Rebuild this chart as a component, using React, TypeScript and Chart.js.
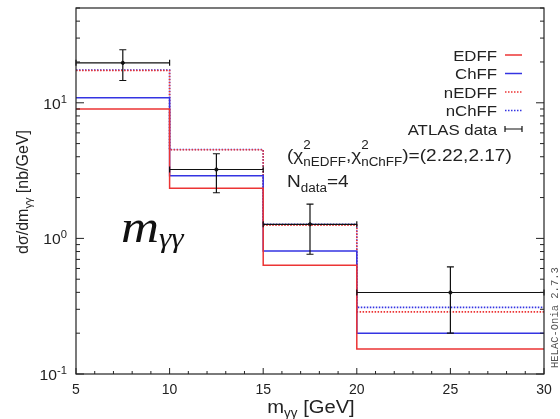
import { useEffect, useRef } from "react";
import { Chart, registerables } from "chart.js";
Chart.register(...registerables);

// ---- data ----
const binEdges = [5, 10, 15, 20, 30];
const edffValues = [9.0, 2.34, 0.634, 0.153];
const chffValues = [10.9, 2.9, 0.808, 0.2];
const nedffValues = [17.3, 4.5, 1.25, 0.287];
const nchffValues = [17.4, 4.52, 1.27, 0.31];
const atlasCenters = [7.5, 12.5, 17.5, 25];
const atlasHalfWidths = [2.5, 2.5, 2.5, 5];
const atlasValues = [19.7, 3.22, 1.27, 0.399];
const atlasLow = [14.6, 2.17, 0.764, 0.2];
const atlasHigh = [24.6, 4.21, 1.79, 0.616];
const xTickStep = 5;
const yDecades = [0.1, 1, 10];
const yDecadeExponents = ["-1", "0", "1"];
const seriesLabels = ["EDFF", "ChFF", "nEDFF", "nChFF", "ATLAS data"];

const RED = "rgb(236,52,52)";
const BLUE = "rgb(52,52,226)";
const SANS = "'Liberation Sans', Arial, sans-serif";
const SX = 1.12;

const stepPoints = (vals: number[]) =>
  binEdges.map((x, i) => ({ x, y: vals[Math.min(i, vals.length - 1)] }));

type Seg = {
  t?: string;
  sup?: string;
  sub?: string;
  size: number;
  small?: number;
  supDy?: number;
  subDy?: number;
  family?: string;
  style?: string;
};

function fontOf(size: number, family?: string, style?: string) {
  return `${style || ""} ${size}px ${family || SANS}`;
}

function measureSeg(ctx: CanvasRenderingContext2D, s: Seg, sx: number) {
  if (s.t !== undefined) {
    ctx.font = fontOf(s.size, s.family, s.style);
    return ctx.measureText(s.t).width * sx;
  }
  ctx.font = fontOf(s.small || s.size, s.family, s.style);
  const a = s.sup ? ctx.measureText(s.sup).width : 0;
  const b = s.sub ? ctx.measureText(s.sub).width : 0;
  return Math.max(a, b) * sx;
}

function put(ctx: CanvasRenderingContext2D, t: string, x: number, y: number, font: string, sx: number) {
  ctx.save();
  ctx.font = font;
  ctx.translate(x, y);
  ctx.scale(sx, 1);
  ctx.textAlign = "left";
  ctx.textBaseline = "alphabetic";
  ctx.fillText(t, 0, 0);
  ctx.restore();
}

function drawRich(
  ctx: CanvasRenderingContext2D,
  segs: Seg[],
  x: number,
  y: number,
  align: "left" | "right" | "center",
  color: string,
  sx = SX
) {
  const widths = segs.map((s) => measureSeg(ctx, s, sx));
  const total = widths.reduce((a, b) => a + b, 0);
  let cx = align === "right" ? x - total : align === "center" ? x - total / 2 : x;
  ctx.fillStyle = color;
  segs.forEach((s, i) => {
    if (s.t !== undefined) {
      put(ctx, s.t, cx, y, fontOf(s.size, s.family, s.style), sx);
    } else {
      const f = fontOf(s.small || s.size, s.family, s.style);
      if (s.sup) put(ctx, s.sup, cx, y + (s.supDy || 0), f, sx);
      if (s.sub) put(ctx, s.sub, cx, y + (s.subDy || 0), f, sx);
    }
    cx += widths[i];
  });
}

const decorPlugin = {
  id: "decor",
  afterDatasetsDraw(chart: any) {
    const ctx: CanvasRenderingContext2D = chart.ctx;
    const { left, right, top, bottom } = chart.chartArea;
    const xs = chart.scales.x;
    const ys = chart.scales.y;
    const ink = "#222";
    ctx.save();

    // ATLAS error bars
    ctx.strokeStyle = "#111";
    ctx.lineWidth = 1.2;
    atlasCenters.forEach((c, i) => {
      const x1 = xs.getPixelForValue(c - atlasHalfWidths[i]);
      const x2 = xs.getPixelForValue(c + atlasHalfWidths[i]);
      const xc = xs.getPixelForValue(c);
      const yv = ys.getPixelForValue(atlasValues[i]);
      const yl = ys.getPixelForValue(atlasLow[i]);
      const yh = ys.getPixelForValue(atlasHigh[i]);
      ctx.beginPath();
      ctx.moveTo(x1, yv);
      ctx.lineTo(x2, yv);
      ctx.moveTo(x1, yv - 3);
      ctx.lineTo(x1, yv + 3);
      ctx.moveTo(x2, yv - 3);
      ctx.lineTo(x2, yv + 3);
      ctx.moveTo(xc, yl);
      ctx.lineTo(xc, yh);
      ctx.moveTo(xc - 3.5, yl);
      ctx.lineTo(xc + 3.5, yl);
      ctx.moveTo(xc - 3.5, yh);
      ctx.lineTo(xc + 3.5, yh);
      ctx.stroke();
    });

    // frame
    ctx.strokeStyle = ink;
    ctx.lineWidth = 1.2;
    ctx.strokeRect(left, top, right - left, bottom - top);

    // x ticks
    ctx.lineWidth = 1;
    ctx.beginPath();
    for (let v = xs.min; v <= xs.max + 1e-9; v += 1) {
      const px = xs.getPixelForValue(v);
      const len = v % xTickStep === 0 ? 6 : 3;
      ctx.moveTo(px, bottom);
      ctx.lineTo(px, bottom - len);
    }
    // y ticks (log, left and right)
    yDecades.forEach((d) => {
      for (let k = 1; k <= 9; k++) {
        const v = d * k;
        if (v < ys.min - 1e-12 || v > ys.max + 1e-12) continue;
        const py = ys.getPixelForValue(v);
        const len = k === 1 ? 8 : 4;
        ctx.moveTo(left, py);
        ctx.lineTo(left + len, py);
        ctx.moveTo(right, py);
        ctx.lineTo(right - len, py);
      }
    });
    ctx.stroke();

    // y tick labels 10^n
    yDecades.forEach((d, i) => {
      const py = ys.getPixelForValue(d);
      drawRich(
        ctx,
        [
          { t: "10", size: 14 },
          { sup: yDecadeExponents[i], size: 14, small: 10, supDy: -6 },
        ],
        left - 9,
        py + 6,
        "right",
        ink
      );
    });

    // x axis title
    drawRich(
      ctx,
      [
        { t: "m", size: 18 },
        { sub: "\u03b3\u03b3", size: 18, small: 12, subDy: 4 },
        { t: " [GeV]", size: 18 },
      ],
      (left + right) / 2 + 1,
      chart.height - 6,
      "center",
      ink
    );

    // y axis title (rotated)
    ctx.save();
    ctx.translate(28, (top + bottom) / 2 + 1);
    ctx.rotate(-Math.PI / 2);
    drawRich(
      ctx,
      [
        { t: "d\u03c3/dm", size: 16 },
        { sub: "\u03b3\u03b3", size: 16, small: 11, subDy: 4 },
        { t: " [nb/GeV]", size: 16 },
      ],
      0,
      0,
      "center",
      ink,
      1
    );
    ctx.restore();

    // legend
    const ds = chart.data.datasets;
    seriesLabels.forEach((lab, i) => {
      const yc = 55 + i * 18.5;
      drawRich(ctx, [{ t: lab, size: 15 }], 497, yc + 5.5, "right", ink);
      const d = ds[i];
      ctx.save();
      ctx.strokeStyle = d.borderColor;
      ctx.lineWidth = i === 4 ? 1.2 : d.borderWidth;
      ctx.setLineDash(d.borderDash || []);
      ctx.beginPath();
      ctx.moveTo(505, yc);
      ctx.lineTo(522, yc);
      if (i === 4) {
        ctx.moveTo(505, yc - 3);
        ctx.lineTo(505, yc + 3);
        ctx.moveTo(522, yc - 3);
        ctx.lineTo(522, yc + 3);
      }
      ctx.stroke();
      ctx.restore();
    });

    // chi2 annotation
    drawRich(
      ctx,
      [
        { t: "(\u03c7", size: 17 },
        { sup: "2", sub: "nEDFF", size: 17, small: 12, supDy: -12, subDy: 5 },
        { t: ",\u03c7", size: 17 },
        { sup: "2", sub: "nChFF", size: 17, small: 12, supDy: -12, subDy: 5 },
        { t: ")=(2.22,2.17)", size: 17 },
      ],
      287,
      161,
      "left",
      ink
    );
    drawRich(
      ctx,
      [
        { t: "N", size: 17 },
        { sub: "data", size: 17, small: 12, subDy: 5 },
        { t: "=4", size: 17 },
      ],
      287,
      187,
      "left",
      ink
    );

    // big m_gamma gamma label
    drawRich(
      ctx,
      [
        { t: "m", size: 47, family: "'Liberation Serif', serif", style: "italic" },
        { sub: "\u03b3\u03b3", size: 47, small: 28, subDy: 5, family: "'Liberation Serif', serif", style: "italic" },
      ],
      121,
      242,
      "left",
      "#111"
    );

    // program stamp
    ctx.save();
    ctx.translate(558, 368);
    ctx.rotate(-Math.PI / 2);
    ctx.fillStyle = "#555";
    ctx.font = "10.5px 'Liberation Mono', monospace";
    ctx.textAlign = "left";
    ctx.fillText("HELAC-Onia 2.7.3", 0, 0);
    ctx.restore();

    ctx.restore();
  },
};

export default function App() {
  const ref = useRef<HTMLCanvasElement>(null);
  useEffect(() => {
    if (!ref.current) return;
    const chart = new Chart(ref.current, {
      type: "line",
      data: {
        datasets: [
          {
            label: seriesLabels[0],
            data: stepPoints(edffValues),
            borderColor: RED,
            borderWidth: 1.5,
            stepped: true,
            pointRadius: 0,
            fill: false,
          },
          {
            label: seriesLabels[1],
            data: stepPoints(chffValues),
            borderColor: BLUE,
            borderWidth: 1.5,
            stepped: true,
            pointRadius: 0,
            fill: false,
          },
          {
            label: seriesLabels[2],
            data: stepPoints(nedffValues),
            borderColor: RED,
            borderWidth: 1.6,
            borderDash: [1.5, 1.5],
            stepped: true,
            pointRadius: 0,
            fill: false,
          },
          {
            label: seriesLabels[3],
            data: stepPoints(nchffValues),
            borderColor: BLUE,
            borderWidth: 1.6,
            borderDash: [1.5, 1.5],
            stepped: true,
            pointRadius: 0,
            fill: false,
          },
          {
            label: seriesLabels[4],
            data: atlasCenters.map((x, i) => ({ x, y: atlasValues[i] })),
            borderColor: "#111",
            backgroundColor: "#111",
            showLine: false,
            pointRadius: 1.6,
            pointHoverRadius: 1.6,
          },
        ] as any,
      },
      options: {
        animation: false,
        responsive: false,
        events: [],
        layout: { padding: { top: 8, right: 16, left: 0, bottom: 0 } },
        plugins: { legend: { display: false }, tooltip: { enabled: false } },
        scales: {
          x: {
            type: "linear",
            min: binEdges[0],
            max: binEdges[binEdges.length - 1],
            grid: { display: false, drawTicks: false },
            border: { display: false },
            ticks: {
              stepSize: xTickStep,
              autoSkip: false,
              maxRotation: 0,
              padding: 8,
              color: "#222",
              font: { family: "'Liberation Sans', Arial, sans-serif", size: 14 },
            },
            afterFit: (s: any) => {
              s.height = 45;
            },
          },
          y: {
            type: "logarithmic",
            min: 0.1,
            max: 50,
            grid: { display: false, drawTicks: false },
            border: { display: false },
            ticks: { display: false },
            afterFit: (s: any) => {
              s.width = 76;
            },
          },
        },
      } as any,
      plugins: [decorPlugin],
    });
    return () => chart.destroy();
  }, []);
  return (
    <div style={{ position: "fixed", left: 0, top: 0, width: 560, height: 419, background: "#fff" }}>
      <canvas ref={ref} width={560} height={419} style={{ width: 560, height: 419 }} />
    </div>
  );
}
